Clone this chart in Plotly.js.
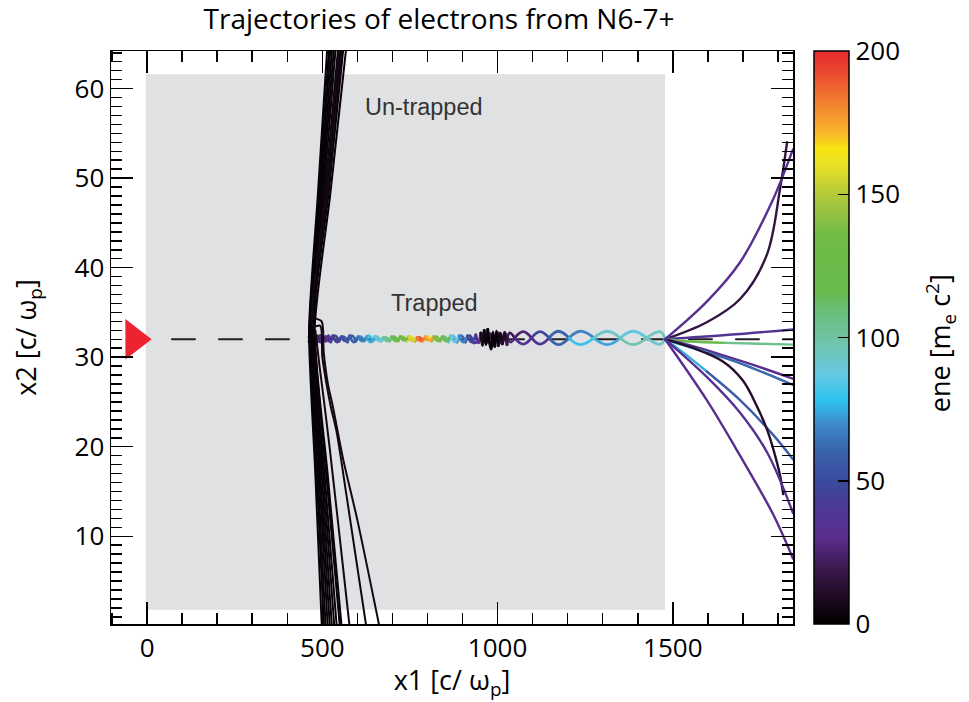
<!DOCTYPE html>
<html>
<head>
<meta charset="utf-8">
<script src="https://cdn.plot.ly/plotly-3.0.1.min.js"></script>
<style>
  html, body { margin: 0; padding: 0; background: #fff; }
  #chart { width: 969px; height: 702px; }
  .scatterlayer path.js-line { stroke-linecap: round; stroke-linejoin: round; }
</style>
</head>
<body>
<div id="chart"></div>
<script>
// ---------------------------------------------------------------------------
// Energy colour table (0 .. 200 m_e c^2)
// ---------------------------------------------------------------------------
const ENE_MIN = 0, ENE_MAX = 200;
const eneScale = [
  [0.00, '#000000'], [0.05, '#1f0b22'], [0.10, '#3d1a52'], [0.15, '#5a2e8e'],
  [0.20, '#4d3896'], [0.25, '#3b4a9c'], [0.30, '#3862aa'], [0.35, '#3d8bc9'],
  [0.39, '#2ec3ef'], [0.44, '#6ac8e0'], [0.49, '#70c4ab'], [0.54, '#6abf80'],
  [0.58, '#67ba4c'], [0.68, '#72bb46'], [0.75, '#b3c93a'], [0.80, '#e8e025'],
  [0.83, '#f8e312'], [0.86, '#f9b22a'], [0.91, '#f28030'], [0.96, '#eb4a30'],
  [1.00, '#e8292d']
];

// Colourbar ticks: labelled majors and unlabelled minors
const cbTickVals = [0, 50, 100, 150, 200];
const cbTickText = ['0', '50', '100', '150', '200'];
const cbMinorVals = [10,20,30,40,60,70,80,90,110,120,130,140,160,170,180,190];

// ---------------------------------------------------------------------------
// Trapped electrons: two braided trajectories along the channel axis
// ---------------------------------------------------------------------------
const trapA_x = [462,470,478,486,494,502,510,518,
  530,542,554,566,578,590,602,614,626,638,650,662,674,686,698,710,722,734,746,758,770,782,794,806,818,830,842,854,866,878,890,902,914,926,938,
  946,952,957,962,967,972,977,982,987,992,997,1002,1008,1014,1020,1027,1034,
  1049,1073,1097,1121,1147,1173,1204,1236,1275,1313,1350,1387,1425,1464,1478];
const trapA_y = [32.3,31.7,32.5,31.7,32.4,31.8,32.3,31.8,
  32.4,31.7,32.3,31.8,32.4,31.7,32.3,31.8,32.3,31.7,32.3,31.8,32.2,31.8,32.3,31.8,32.3,31.9,32.3,31.8,32.2,31.8,32.3,31.9,32.3,31.8,32.3,31.8,32.4,31.7,32.4,31.7,32.4,31.7,32.5,
  31.6,32.7,31.3,33.0,31.4,33.1,31.6,30.9,32.8,31.2,32.9,31.3,32.7,31.5,32.8,31.4,32.7,
  32.15,32.85,32.15,31.45,32.15,32.9,32.15,31.4,32.15,32.9,32.15,31.4,32.15,32.85,32.05];
const trapA_ene = [18,20,22,24,26,28,30,33,
  38,44,48,52,55,58,62,66,70,74,80,88,95,102,110,118,125,132,142,155,168,185,192,175,152,138,128,115,100,88,78,68,58,48,40,
  30,18,8,4,3,2,2,2,2,2,3,4,5,7,10,14,18,
  20,25,30,38,48,60,72,80,88,92,95,97,96,94,92];

const trapB_x = [462,470,478,486,494,502,510,518,
  524,536,548,560,572,584,596,608,620,632,644,656,668,680,692,704,716,728,740,752,764,776,788,800,812,824,836,848,860,872,884,896,908,920,932,
  946,957,968,979,990,1001,1012,1023,1036,
  1049,1073,1097,1121,1147,1173,1204,1236,1275,1313,1350,1387,1425,1464,1478];
const trapB_y = [31.7,32.3,31.6,32.4,31.7,32.3,31.8,32.4,
  31.7,32.4,31.8,32.3,31.7,32.4,31.8,32.3,31.8,32.4,31.8,32.3,31.8,32.2,31.8,32.3,31.8,32.3,31.8,32.3,31.8,32.2,31.8,32.3,31.8,32.3,31.8,32.3,31.7,32.4,31.7,32.4,31.7,32.4,31.6,
  31.8,32.6,31.6,32.6,31.5,32.7,31.5,32.6,31.7,
  32.15,31.45,32.15,32.85,32.15,31.4,32.15,32.9,32.15,31.4,32.15,32.9,32.15,31.45,32.05];
const trapB_ene = [12,15,18,22,25,28,32,35,
  42,46,50,54,57,60,64,68,72,78,85,92,100,108,115,122,130,138,150,162,178,190,186,165,145,132,120,108,95,84,74,62,52,44,38,
  36,32,28,24,22,22,24,26,28,
  30,34,40,48,55,60,66,68,70,74,80,86,90,92,90];

// ---------------------------------------------------------------------------
// Trapped electrons leaving the plasma (fan on the right)
// ---------------------------------------------------------------------------
const fan = [
  { x: [1478,1597,1692,1768,1806,1826], y: [32,33.9,36.5,41.4,48.8,54.0], ene: [16,16,16,16,16,16] },
  { x: [1478,1597,1692,1787,1837,1843], y: [32,36.2,40.6,47.7,52.6,53.2], ene: [32,32,32,32,32,32] },
  { x: [1478,1660,1843], y: [32,32.5,33.1], ene: [36,36,36] },
  { x: [1478,1548,1650,1750,1843], y: [32,31.75,31.6,31.5,31.4], ene: [95,118,118,105,100] },
  { x: [1478,1560,1644,1740,1843], y: [32,31.2,30.2,29.0,27.6], ene: [30,30,30,30,30] },
  { x: [1478,1540,1600,1700,1843], y: [32,31.2,30.5,29.2,26.9], ene: [75,75,62,62,62] },
  { x: [1478,1540,1597,1692,1787,1843], y: [32,30.2,28.4,25.2,21.3,18.6], ene: [75,75,58,58,58,58] },
  { x: [1478,1560,1644,1700,1739,1770,1787,1806,1815], y: [32,31.0,29.5,27.4,24.6,21.8,19.7,16.8,14.7], ene: [12,12,12,12,12,12,12,12,12] },
  { x: [1478,1597,1692,1770,1843], y: [32,27.8,23.8,19.3,12.6], ene: [34,34,34,34,34] },
  { x: [1478,1597,1692,1787,1843], y: [32,25.2,19.0,12.4,7.5], ene: [30,30,30,30,30] }
];

// ---------------------------------------------------------------------------
// Un-trapped electrons crossing the focus
// ---------------------------------------------------------------------------
const untrapped = [
  { x: [514,487,462,480,499], y: [64.5,48,33.0,17,-0.5] },
  { x: [519,490,464,484,505], y: [64.5,48,33.5,17,-0.5] },
  { x: [523,493,466,487,510], y: [64.5,48,34.0,17,-0.5] },
  { x: [528,496,467,491,516], y: [64.5,48,33.2,17,-0.5] },
  { x: [533,499,469,494,522], y: [64.5,48,33.8,17,-0.5] },
  { x: [538,503,470,498,528], y: [64.5,48,33.0,17,-0.5] },
  { x: [545,507,472,502,535], y: [64.5,48,34.2,17,-0.5] },
  { x: [552,512,474,506,542], y: [64.5,48,33.5,17,-0.5] },
  { x: [560,517,476,511,551], y: [64.5,48,34.5,17,-0.5] },
  { x: [568,522,478,515,556], y: [64.5,48,33.0,17,-0.5] }
];
const deflected = [
  { x: [556,514,476,498,504,516,530,560,600,665], y: [64.5,48,34.5,34.0,30.5,27.0,24.5,18.5,11.8,-0.5] },
  { x: [548,508,474,494,500,512,524,541,570,627], y: [64.5,48,33.5,33.5,30.0,27.0,24.5,21.6,14.3,-0.5] },
  { x: [480,492,505,522,545,579], y: [33,29,25,19.5,11.5,-0.5] }
];
const UNTRAPPED_ENE = 2, DEFLECTED_ENE = 6;

// Laser axis and injection point
const axisLine_x = [71, 1843], axisLine_y = [32, 32];
const laser_x = [-37], laser_y = [32];

// Plasma region
const plasma = { x0: -4, x1: 1478, y0: 1.8, y1: 61.6 };

// ---------------------------------------------------------------------------
const FONT = 'Open Sans, Noto Sans, sans-serif';
const LABEL_FONT = 'Liberation Sans, Arial, sans-serif';

function hexToRgb(h) {
  return [parseInt(h.slice(1,3),16), parseInt(h.slice(3,5),16), parseInt(h.slice(5,7),16)];
}
function eneColor(v) {
  const t = Math.max(0, Math.min(1, (v - ENE_MIN) / (ENE_MAX - ENE_MIN)));
  for (let i = 1; i < eneScale.length; i++) {
    if (t <= eneScale[i][0]) {
      const a = eneScale[i-1], b = eneScale[i];
      const f = (t - a[0]) / (b[0] - a[0]);
      const ca = hexToRgb(a[1]), cb = hexToRgb(b[1]);
      const c = ca.map((q, k) => Math.round(q + (cb[k] - q) * f));
      return 'rgb(' + c.join(',') + ')';
    }
  }
  return eneScale[eneScale.length-1][1];
}

const traces = [];

// Split a trajectory into 3-point spline pieces, each coloured by its
// middle point's energy; consecutive pieces of the same colour are merged.
function addColoredPath(xs, ys, es, width, smoothing) {
  const pieces = [];
  for (let i = 0; i < xs.length - 1; i += 2) {
    const end = Math.min(i + 2, xs.length - 1);
    const col = eneColor(es[i + 1]);
    const last = pieces[pieces.length - 1];
    if (last && last.col === col) {
      for (let k = i + 1; k <= end; k++) { last.x.push(xs[k]); last.y.push(ys[k]); }
    } else {
      pieces.push({ col: col, x: xs.slice(i, end + 1), y: ys.slice(i, end + 1) });
    }
  }
  pieces.forEach(p => traces.push({
    type: 'scatter', mode: 'lines', x: p.x, y: p.y,
    line: { color: p.col, width: width, shape: 'spline', smoothing: smoothing },
    hoverinfo: 'skip', showlegend: false
  }));
}

// dashed laser axis
traces.push({
  type: 'scatter', mode: 'lines', x: axisLine_x, y: axisLine_y,
  line: { color: '#231f20', width: 2, dash: '23px,24px' },
  hoverinfo: 'skip', showlegend: false
});

// trapped ribbon
addColoredPath(trapB_x, trapB_y, trapB_ene, 2.8, 1.2);
addColoredPath(trapA_x, trapA_y, trapA_ene, 2.8, 1.2);

// un-trapped electrons
untrapped.forEach(t => traces.push({
  type: 'scatter', mode: 'lines', x: t.x, y: t.y,
  line: { color: eneColor(UNTRAPPED_ENE), width: 2, shape: 'spline', smoothing: 0.6 },
  hoverinfo: 'skip', showlegend: false
}));
deflected.forEach(t => traces.push({
  type: 'scatter', mode: 'lines', x: t.x, y: t.y,
  line: { color: eneColor(DEFLECTED_ENE), width: 2, shape: 'spline', smoothing: 0.8 },
  hoverinfo: 'skip', showlegend: false
}));

// exit fan
fan.forEach(f => addColoredPath(f.x, f.y, f.ene, 2.4, 1));

// laser injection marker
traces.push({
  type: 'scatter', mode: 'markers', x: laser_x, y: laser_y, cliponaxis: false,
  marker: { symbol: 'triangle-right', size: 35, color: '#ec2431', line: { width: 0 } },
  hoverinfo: 'skip', showlegend: false
});

// energy scale (colourbar carrier)
const CB_X = 1.031, CB_THICK = 35, PLOT_W = 969 - 111 - 176;
traces.push({
  type: 'scatter', mode: 'markers', x: trapA_x, y: trapA_y,
  marker: {
    size: 1, opacity: 0, color: trapA_ene,
    colorscale: eneScale, cmin: ENE_MIN, cmax: ENE_MAX, showscale: true,
    colorbar: {
      x: CB_X, xanchor: 'left', xpad: 0, ypad: 0, y: 0.5, yanchor: 'middle',
      len: 1, lenmode: 'fraction', thickness: CB_THICK, thicknessmode: 'pixels',
      outlinewidth: 1.5, outlinecolor: '#000',
      tickmode: 'array', tickvals: cbTickVals, ticktext: cbTickText,
      ticks: 'inside', ticklen: 11, tickwidth: 1.5, tickcolor: '#000',
      tickfont: { family: FONT, size: 26, color: '#000' }
    }
  },
  hoverinfo: 'skip', showlegend: false
});

// colourbar tick marks on both edges (minors) and majors on the left edge
const shapes = [{
  type: 'rect', layer: 'below', xref: 'x', yref: 'y',
  x0: plasma.x0, x1: plasma.x1, y0: plasma.y0, y1: plasma.y1,
  fillcolor: '#e0e1e3', line: { width: 0 }
}];
const cbLeft = CB_X, cbRight = CB_X + CB_THICK / PLOT_W;
const tickLine = (x0, x1, yp) => ({ type: 'line', xref: 'paper', yref: 'paper', x0: x0, x1: x1, y0: yp, y1: yp,
                                    line: { color: '#000', width: 1.5 } });
cbMinorVals.forEach(v => {
  const yp = (v - ENE_MIN) / (ENE_MAX - ENE_MIN), len = 5 / PLOT_W;
  shapes.push(tickLine(cbLeft, cbLeft + len, yp));
  shapes.push(tickLine(cbRight - len, cbRight, yp));
});
cbTickVals.slice(1, -1).forEach(v => {
  const yp = (v - ENE_MIN) / (ENE_MAX - ENE_MIN);
  shapes.push(tickLine(cbLeft, cbLeft + 11 / PLOT_W, yp));
});

const axisCommon = {
  showgrid: false, zeroline: false, showline: true, linecolor: '#000', linewidth: 1.5,
  mirror: 'ticks', ticks: 'inside', ticklen: 22, tickwidth: 1.5, tickcolor: '#000',
  tickfont: { family: FONT, size: 26, color: '#000' }
};

const layout = {
  width: 969, height: 702,
  margin: { l: 111, r: 176, t: 51, b: 78 },
  paper_bgcolor: '#fff', plot_bgcolor: '#fff',
  showlegend: false,
  title: {
    text: 'Trajectories of electrons from N6-7+',
    x: 0.481, xref: 'paper', xanchor: 'center', y: 0.972, yref: 'container', yanchor: 'middle',
    font: { family: FONT, size: 28, color: '#000' }
  },
  xaxis: Object.assign({}, axisCommon, {
    range: [-103, 1843], tick0: 0, dtick: 500,
    minor: { dtick: 100, ticks: 'inside', ticklen: 11, tickwidth: 1.5, tickcolor: '#000' },
    title: { text: 'x1 [c/ ω<sub>p</sub>]', standoff: 4, font: { family: FONT, size: 27, color: '#000' } }
  }),
  yaxis: Object.assign({}, axisCommon, {
    range: [0.2, 64.2], tick0: 0, dtick: 10,
    minor: { dtick: 1, ticks: 'inside', ticklen: 11, tickwidth: 1.5, tickcolor: '#000' },
    title: { text: 'x2 [c/ ω<sub>p</sub>]', standoff: 30, font: { family: FONT, size: 27, color: '#000' } }
  }),
  shapes: shapes,
  annotations: [
    { x: 790, y: 58.0, xref: 'x', yref: 'y', text: 'Un-trapped', showarrow: false,
      font: { family: LABEL_FONT, size: 23.5, color: '#333' } },
    { x: 819, y: 36.1, xref: 'x', yref: 'y', text: 'Trapped', showarrow: false,
      font: { family: LABEL_FONT, size: 23.5, color: '#333' } },
    { x: 1.2155, y: 0.49, xref: 'paper', yref: 'paper', text: 'ene [m<sub>e</sub> c<sup>2</sup>]',
      textangle: -90, showarrow: false, xanchor: 'center', yanchor: 'middle',
      font: { family: FONT, size: 27, color: '#000' } }
  ]
};

Plotly.newPlot('chart', traces, layout, { displayModeBar: false, staticPlot: true });
</script>
</body>
</html>
